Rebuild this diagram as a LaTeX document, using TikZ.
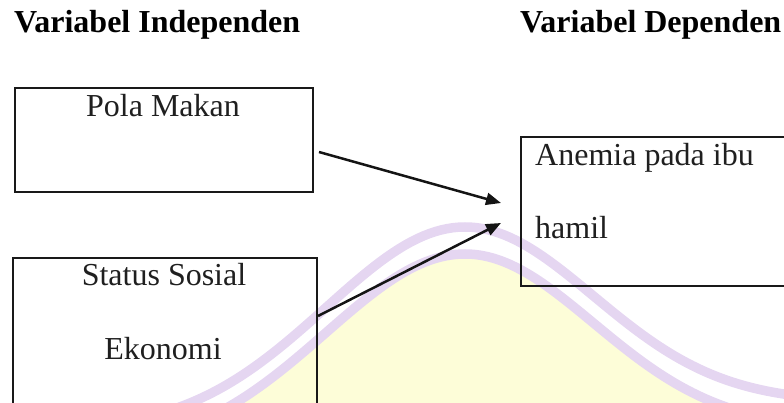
\documentclass[tikz,border=0pt]{standalone}
\usepackage{fontspec}
\setmainfont{Liberation Serif}
\usetikzlibrary{arrows.meta}
\definecolor{wmpurple}{HTML}{E5D6F1}
\definecolor{wmyellow}{HTML}{FDFDD8}
\begin{document}
\begin{tikzpicture}[x=1pt,y=-1pt,
  declare function={gl(\t)=1-exp(-((\t-465)/100)*((\t-465)/100)/3.867);
                    gr(\t)=1-exp(-((\t-465)/100)*((\t-465)/100)/3.29);},
  box/.style={draw=black!90, line width=1.9pt, inner sep=0pt},
  lbl/.style={font=\fontsize{32}{38}\selectfont, inner sep=0pt, text=black!88},
  head/.style={font=\fontsize{32}{38}\selectfont\bfseries, inner sep=0pt},
  conn/.style={draw=black!92, line width=2.5pt, -{Triangle[length=15pt,width=12pt]}},
  band/.style={draw=wmpurple, line width=9.5pt}]
\useasboundingbox (0,0) rectangle (784,403);
\clip (0,0) rectangle (784,403);
% watermark
\fill[wmyellow] plot[domain=170:465,samples=60] (\x,{254+200*gl(\x)})
  -- plot[domain=465:800,samples=60] (\x,{254+175*gr(\x)})
  -- (800,420) -- (170,420) -- cycle;
\draw[band] plot[domain=110:465,samples=60] (\x,{227+205*gl(\x)})
  -- plot[domain=465:800,samples=60] (\x,{227+175*gr(\x)});
\draw[band] plot[domain=170:465,samples=60] (\x,{254+200*gl(\x)})
  -- plot[domain=465:800,samples=60] (\x,{254+175*gr(\x)});
% headings
\node[head, anchor=base west] (h1) at (14,33) {Variabel Independen};
\node[head, anchor=base west] (h2) at (520,33) {Variabel Dependen};
% boxes
\node[box, minimum width=298pt, minimum height=104pt, anchor=north west] (pola) at (14,87) {};
\node[box, minimum width=304pt, minimum height=180pt, anchor=north west] (status) at (12,257) {};
\node[box, minimum width=300pt, minimum height=149pt, anchor=north west] (anemia) at (520,136) {};
% texts
\node[lbl, anchor=base] (polat) at (163,117) {Pola Makan};
\node[lbl, anchor=base] (status1) at (164,286) {Status Sosial};
\node[lbl, anchor=base] (status2) at (163,359) {Ekonomi};
\node[lbl, anchor=base west] (anemia1) at (535,166) {Anemia pada ibu};
\node[lbl, anchor=base west] (anemia2) at (535,239) {hamil};
% connectors
\coordinate (s1) at (319,152);
\coordinate (t1) at (501,203);
\coordinate (s2) at (318,316);
\coordinate (t2) at (501,223);
\draw[conn] (s1) -- (t1);
\draw[conn] (s2) -- (t2);
\end{tikzpicture}
\end{document}
